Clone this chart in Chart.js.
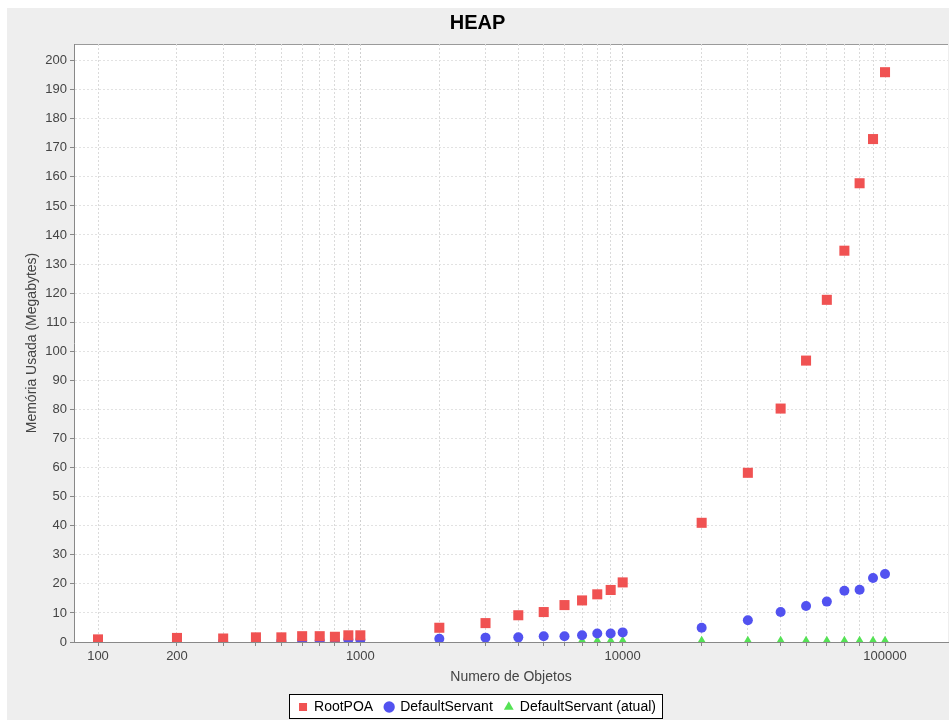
<!DOCTYPE html>
<html>
<head>
<meta charset="utf-8">
<title>HEAP</title>
<script src="https://cdn.jsdelivr.net/npm/chart.js@4.4.0/dist/chart.umd.min.js"></script>
<style>
  body { margin: 0; background: #fff; }
</style>
</head>
<body>
<canvas id="myChart" width="949" height="720"></canvas>
<script>
// dados
const objetos = [100, 200, 300, 400, 500, 600, 700, 800, 900, 1000,
                 2000, 3000, 4000, 5000, 6000, 7000, 8000, 9000, 10000,
                 20000, 30000, 40000, 50000, 60000, 70000, 80000, 90000, 100000];
const rootPOA = [0.9, 1.4, 1.2, 1.6, 1.6, 2.0, 2.0, 1.8, 2.3, 2.3,
                 4.9, 6.5, 9.2, 10.3, 12.7, 14.3, 16.4, 17.9, 20.5,
                 41.0, 58.2, 80.3, 96.8, 117.7, 134.6, 157.8, 173.0, 196.0];
const defaultServant = [0.2, 0.2, 0.2, 0.2, 0.3, 0.4, 0.4, 0.4, 0.8, 0.8,
                        1.1, 1.5, 1.6, 2.0, 2.0, 2.3, 2.9, 2.9, 3.3,
                        4.9, 7.5, 10.3, 12.4, 13.9, 17.6, 18.0, 22.0, 23.4];
const defaultServantAtual = [null, null, null, null, null, null, null, null, null, null,
                             null, null, null, null, null, 0.4, 0.4, 0.4, 0.4,
                             0.4, 0.4, 0.4, 0.4, 0.4, 0.4, 0.4, 0.4, 0.4];
const xLabels = [100, 200, 1000, 10000, 100000];
const yTicks = [0, 10, 20, 30, 40, 50, 60, 70, 80, 90, 100, 110, 120, 130, 140, 150,
                160, 170, 180, 190, 200];

const pontos = (vals) => objetos.map((x, i) => ({x: x, y: vals[i]})).filter(p => p.y !== null);

const fonte = '"Liberation Sans", Arial, sans-serif';
const padBaixo = -4;

// fundo cinza, area branca, borda da legenda
const fundo = {
  id: 'fundo',
  beforeDraw(chart) {
    const ctx = chart.ctx;
    const a = chart.chartArea;
    ctx.save();
    ctx.fillStyle = '#ffffff';
    ctx.fillRect(0, 0, chart.width, chart.height);
    ctx.fillStyle = '#eeeeee';
    ctx.fillRect(7, 8, chart.width - 7, chart.height - 8);
    ctx.fillStyle = '#ffffff';
    ctx.fillRect(a.left, a.top, a.right - a.left, a.bottom - a.top);
    ctx.strokeStyle = '#9a9a9a';
    ctx.lineWidth = 1;
    ctx.beginPath();
    ctx.moveTo(a.left, a.top + 0.5);
    ctx.lineTo(a.right, a.top + 0.5);
    ctx.stroke();

    const hb = chart.legend.legendHitBoxes;
    if (hb && hb.length) {
      const l = Math.min(...hb.map(h => h.left)) - 10;
      const r = Math.max(...hb.map(h => h.left + h.width)) + 6;
      const t = Math.min(...hb.map(h => h.top)) - 6;
      const b = Math.max(...hb.map(h => h.top + h.height)) + 4;
      ctx.fillStyle = '#ffffff';
      ctx.fillRect(l, t, r - l, b - t);
      ctx.strokeStyle = '#000000';
      ctx.strokeRect(Math.round(l) + 0.5, Math.round(t) + 0.5, Math.round(r - l), Math.round(b - t));
    }
    ctx.restore();
  }
};

const ctx = document.getElementById('myChart');

new Chart(ctx, {
  type: 'scatter',
  data: {
    datasets: [{
      label: 'RootPOA',
      data: pontos(rootPOA),
      pointStyle: 'rect',
      pointRadius: 7.1,
      backgroundColor: '#f05252',
      borderWidth: 0,
      clip: 0
    }, {
      label: 'DefaultServant',
      data: pontos(defaultServant),
      pointStyle: 'circle',
      pointRadius: 5,
      backgroundColor: '#5252f0',
      borderWidth: 0,
      clip: 0
    }, {
      label: 'DefaultServant (atual)',
      data: pontos(defaultServantAtual),
      pointStyle: 'triangle',
      pointRadius: 5.2,
      backgroundColor: '#55e255',
      borderWidth: 0,
      clip: 0
    }]
  },
  options: {
    responsive: false,
    devicePixelRatio: 1,
    animation: false,
    layout: { autoPadding: false, padding: { left: 7, top: 8, right: 1, bottom: padBaixo } },
    plugins: {
      title: {
        display: true,
        text: 'HEAP',
        color: '#000',
        font: { family: fonte, size: 20, weight: 'bold' },
        padding: { top: 3, bottom: 9 }
      },
      legend: {
        position: 'bottom',
        labels: {
          usePointStyle: true,
          boxWidth: 8,
          boxHeight: 8,
          padding: 12,
          color: '#000',
          font: { family: fonte, size: 14 }
        }
      },
      tooltip: { enabled: false }
    },
    scales: {
      x: {
        type: 'logarithmic',
        min: 81,
        max: 173800,
        afterBuildTicks: (s) => { s.ticks = objetos.map(v => ({value: v})); },
        afterFit: (s) => {
          const lg = s.chart.legend ? s.chart.legend.height : 36;
          s.height = s.chart.height - 642 - lg - padBaixo;
          s.paddingLeft = 0;
          s.paddingRight = 0;
        },
        ticks: {
          autoSkip: false,
          maxRotation: 0,
          padding: 3,
          color: '#444',
          font: { family: fonte, size: 13 },
          callback: (v) => xLabels.includes(v) ? String(v) : ''
        },
        grid: {
          color: (c) => (c.tick && [1000, 10000].includes(c.tick.value)) ? '#cfcfcf' : '#dadada',
          tickColor: '#888',
          tickLength: 4
        },
        border: { color: '#888', width: 1, dash: [2, 2] },
        title: {
          display: true,
          text: 'Numero de Objetos',
          color: '#444',
          font: { family: fonte, size: 14 },
          padding: { top: 0, bottom: 2 }
        }
      },
      y: {
        min: 0,
        max: 205.7,
        afterBuildTicks: (s) => { s.ticks = yTicks.map(v => ({value: v})); },
        afterFit: (s) => { s.width = 67; },
        ticks: {
          autoSkip: false,
          padding: 3,
          color: '#444',
          font: { family: fonte, size: 13 }
        },
        grid: {
          color: '#e2e2e2',
          tickColor: '#888',
          tickLength: 4
        },
        border: { color: '#888', width: 1, dash: [2, 2] },
        title: {
          display: true,
          text: 'Memória Usada (Megabytes)',
          color: '#444',
          font: { family: fonte, size: 14 },
          padding: { top: 17, bottom: 0 }
        }
      }
    }
  },
  plugins: [fundo]
});
</script>
</body>
</html>
